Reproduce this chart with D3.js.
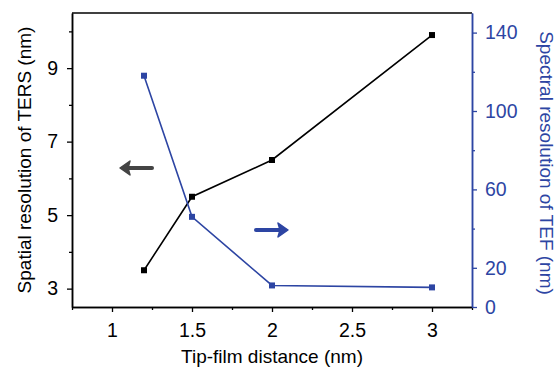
<!DOCTYPE html>
<html>
<head>
<meta charset="utf-8">
<script src="https://cdn.jsdelivr.net/npm/d3@7"></script>
<style>
  html, body { margin: 0; padding: 0; background: #fff; }
  svg { display: block; font-family: "Liberation Sans", Arial, sans-serif; }
</style>
</head>
<body>
<svg id="chart" width="556" height="368"></svg>
<script>
const distances = [1.2, 1.5, 2, 3];
const spatialRes = [3.5, 5.5, 6.5, 9.9];
const spectralRes = [118, 46, 11, 10];

const xMajor = [1, 1.5, 2, 2.5, 3];
const xMinor = [0.75, 1.25, 1.75, 2.25, 2.75, 3.25];
const leftMajor = [3, 5, 7, 9];
const leftMinor = [4, 6, 8, 10];
const rightMajor = [0, 20, 60, 100, 140];
const rightMinor = [40, 80, 120];

const blue = "#2d45a3";
const margin = { top: 13, right: 84, bottom: 61, left: 72 };
const width = 556;
const height = 368;

const svg = d3.select("#chart");

const x = d3.scaleLinear().domain([0.75, 3.25]).range([margin.left, width - margin.right]);
const yLeft = d3.scaleLinear().domain([2.5, 10.5]).range([height - margin.bottom, margin.top]);
const yRight = d3.scaleLinear().domain([0, 150]).range([height - margin.bottom, margin.top]);

const x0 = margin.left;
const x1 = width - margin.right;
const y0 = height - margin.bottom;
const y1 = margin.top;

// top frame line
svg.append("line")
  .attr("x1", x0).attr("x2", x1).attr("y1", y1).attr("y2", y1)
  .attr("stroke", "#000").attr("stroke-width", 1.5);

function styleAxis(g, color) {
  g.select(".domain").attr("stroke", color).attr("stroke-width", 1.5);
  g.selectAll(".tick line").attr("stroke", color).attr("stroke-width", 1.3);
  g.selectAll(".tick text").attr("fill", color).attr("font-size", 19.5)
    .attr("font-family", "Liberation Sans, Arial, sans-serif");
}

// minor ticks
svg.append("g").attr("transform", `translate(0,${y0})`)
  .call(d3.axisBottom(x).tickValues(xMinor).tickSize(3).tickFormat("").tickSizeOuter(0))
  .call((g) => styleAxis(g, "#000"));
svg.append("g").attr("transform", `translate(${x0},0)`)
  .call(d3.axisLeft(yLeft).tickValues(leftMinor).tickSize(3).tickFormat("").tickSizeOuter(0))
  .call((g) => styleAxis(g, "#000"));
svg.append("g").attr("transform", `translate(${x1},0)`)
  .call(d3.axisRight(yRight).tickValues(rightMinor).tickSize(3).tickFormat("").tickSizeOuter(0))
  .call((g) => styleAxis(g, blue));

// major ticks
svg.append("g").attr("transform", `translate(0,${y0})`)
  .call(d3.axisBottom(x).tickValues(xMajor).tickSize(5).tickPadding(11).tickFormat(d3.format("")).tickSizeOuter(0))
  .call((g) => styleAxis(g, "#000"));
svg.append("g").attr("transform", `translate(${x0},0)`)
  .call(d3.axisLeft(yLeft).tickValues(leftMajor).tickSize(5).tickPadding(9).tickSizeOuter(0))
  .call((g) => styleAxis(g, "#000"));
svg.append("g").attr("transform", `translate(${x1},0)`)
  .call(d3.axisRight(yRight).tickValues(rightMajor).tickSize(5).tickPadding(8).tickSizeOuter(0))
  .call((g) => styleAxis(g, blue));

// axis titles
svg.append("text")
  .attr("transform", `translate(31,${(y0 + y1) / 2}) rotate(-90)`)
  .attr("text-anchor", "middle").attr("font-size", 19).attr("fill", "#000")
  .text("Spatial resolution of TERS (nm)");
svg.append("text")
  .attr("transform", `translate(540,${(y0 + y1) / 2 + 3}) rotate(90)`)
  .attr("text-anchor", "middle").attr("font-size", 19).attr("fill", blue)
  .text("Spectral resolution of TEF (nm)");
svg.append("text")
  .attr("x", (x0 + x1) / 2).attr("y", 363)
  .attr("text-anchor", "middle").attr("font-size", 19).attr("fill", "#000")
  .text("Tip-film distance (nm)");

// series
const spatialPts = distances.map((d, i) => [x(d), yLeft(spatialRes[i])]);
const spectralPts = distances.map((d, i) => [x(d), yRight(spectralRes[i])]);

svg.append("path").attr("d", d3.line()(spatialPts))
  .attr("fill", "none").attr("stroke", "#000").attr("stroke-width", 1.6);
svg.append("path").attr("d", d3.line()(spectralPts))
  .attr("fill", "none").attr("stroke", blue).attr("stroke-width", 1.6);

svg.selectAll(".m-spatial").data(spatialPts).join("rect")
  .attr("x", (p) => p[0] - 3).attr("y", (p) => p[1] - 3)
  .attr("width", 6).attr("height", 6).attr("fill", "#000");
svg.selectAll(".m-spectral").data(spectralPts).join("rect")
  .attr("x", (p) => p[0] - 3).attr("y", (p) => p[1] - 3)
  .attr("width", 6).attr("height", 6).attr("fill", blue);

// direction arrows
function arrow(xs, xe, y, color) {
  const dir = Math.sign(xe - xs);
  svg.append("line")
    .attr("x1", xs).attr("x2", xe - dir * 4).attr("y1", y).attr("y2", y)
    .attr("stroke", color).attr("stroke-width", 4).attr("stroke-linecap", "round");
  svg.append("path")
    .attr("d", `M${xe},${y} L${xe - dir * 10},${y - 7} L${xe - dir * 8},${y} L${xe - dir * 10},${y + 7} Z`)
    .attr("fill", color).attr("stroke", color).attr("stroke-width", 1.5).attr("stroke-linejoin", "round");
}
arrow(152, 120, 168, "#444");
arrow(256, 288, 230, blue);
</script>
</body>
</html>
